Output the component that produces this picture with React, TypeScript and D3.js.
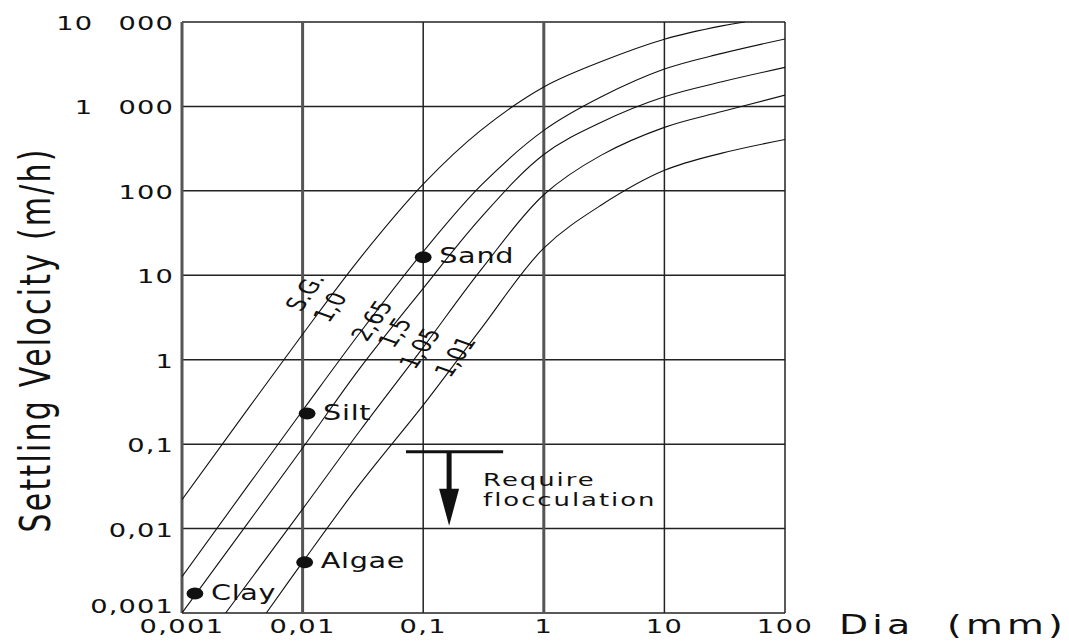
import React from 'react';
import * as d3 from 'd3';

// Axis ticks (decades) and their printed labels
const X_TICKS = [0.001, 0.01, 0.1, 1, 10, 100];
const X_TICK_LABELS = ['0,001', '0,01', '0,1', '1', '10', '100'];
const Y_TICKS = [0.001, 0.01, 0.1, 1, 10, 100, 1000, 10000];
const Y_TICK_LABELS = ['0,001', '0,01', '0,1', '1', '10', '100', '1 000', '10 000'];

// Settling velocity curves: [diameter (mm), velocity (m/h)] per specific gravity
const SG_10: [number, number][] = [
  [0.001, 0.022], [0.01, 2.0], [0.03, 16], [0.1, 120], [0.3, 520],
  [1, 1700], [3, 3400], [10, 6250], [30, 9000], [46.6, 10000],
];
const SG_265: [number, number][] = [
  [0.001, 0.0027], [0.01, 0.25], [0.03, 2.1], [0.1, 19], [0.3, 115],
  [1, 520], [3, 1300], [10, 2770], [30, 4250], [100, 6300],
];
const SG_15: [number, number][] = [
  [0.001, 0.001], [0.01, 0.09], [0.03, 0.8], [0.1, 7], [0.3, 48],
  [1, 270], [3, 650], [10, 1300], [30, 1960], [100, 2900],
];
const SG_105: [number, number][] = [
  [0.0023, 0.001], [0.01, 0.017], [0.03, 0.145], [0.1, 1.4], [0.3, 11.5],
  [1, 90], [3, 265], [10, 565], [30, 870], [100, 1360],
];
const SG_101: [number, number][] = [
  [0.005, 0.001], [0.01, 0.004], [0.03, 0.034], [0.1, 0.29], [0.3, 2.3],
  [1, 21], [3, 68], [10, 175], [30, 280], [100, 406],
];
const CURVES = [SG_10, SG_265, SG_15, SG_105, SG_101];

// Curve annotations placed in data space
const CURVE_LABELS = ['S.G.', '1,0', '2,65', '1,5', '1,05', '1,01'];
const CURVE_LABEL_DIA = [0.0105, 0.0169, 0.0376, 0.0583, 0.094, 0.184];
const CURVE_LABEL_VEL = [6.3, 4.2, 2.9, 2.1, 1.36, 1.09];

// Typical particles
const PARTICLE_NAMES = ['Sand', 'Silt', 'Algae', 'Clay'];
const PARTICLE_DIA = [0.1, 0.0109, 0.0104, 0.00128];
const PARTICLE_VEL = [16.3, 0.23, 0.004, 0.0017];

// Flocculation threshold marker
const FLOC_BAR_DIA = [0.072, 0.46];
const FLOC_BAR_VEL = 0.081;
const FLOC_ARROW_DIA = 0.164;
const FLOC_ARROW_TIP_VEL = 0.0108;
const FLOC_TEXT = ['Require', 'flocculation'];

const W = 1069;
const H = 644;
const LEFT = 182;
const RIGHT = 785;
const TOP = 22;
const BOTTOM = 613;
const SX = 1.4; // horizontal stretch of the lettering
const FONT = '"DejaVu Sans", sans-serif';
const INK = '#111';

export default function App() {
  const x = d3.scaleLog().domain([0.001, 100]).range([LEFT, RIGHT]);
  const y = d3.scaleLog().domain([0.001, 10000]).range([BOTTOM, TOP]);
  const line = d3
    .line<[number, number]>()
    .x((p) => x(p[0]))
    .y((p) => y(p[1]))
    .curve(d3.curveCatmullRom.alpha(0.5));

  const T = (px: number, py: number, rot?: number) =>
    `translate(${px},${py}) scale(${SX},1)` + (rot !== undefined ? ` rotate(${rot})` : '');

  const heavyX = new Set([0.001, 0.01, 1]);

  const barY = y(FLOC_BAR_VEL);
  const arrowX = x(FLOC_ARROW_DIA);
  const tipY = y(FLOC_ARROW_TIP_VEL);

  return (
    <svg
      width={W}
      height={H}
      viewBox={`0 0 ${W} ${H}`}
      style={{ position: 'absolute', left: 0, top: 0, background: '#fff' }}
      fontFamily={FONT}
    >
      <defs>
        <clipPath id="plot-area">
          <rect x={LEFT} y={TOP} width={RIGHT - LEFT} height={BOTTOM - TOP} />
        </clipPath>
      </defs>
      <rect width={W} height={H} fill="#fff" />

      {/* grid */}
      {Y_TICKS.map((v) => (
        <line key={'gy' + v} x1={LEFT} x2={RIGHT} y1={y(v)} y2={y(v)} stroke="#222" strokeWidth={1.5} />
      ))}
      {X_TICKS.map((d) => (
        <line
          key={'gx' + d}
          x1={x(d)}
          x2={x(d)}
          y1={TOP}
          y2={BOTTOM}
          stroke={heavyX.has(d) ? '#555' : '#222'}
          strokeWidth={heavyX.has(d) ? 3 : 1.5}
        />
      ))}

      {/* settling curves */}
      <g clipPath="url(#plot-area)">
        {CURVES.map((c, i) => (
          <path key={'c' + i} d={line(c) || ''} fill="none" stroke={INK} strokeWidth={1.1} />
        ))}
      </g>

      {/* curve labels */}
      {CURVE_LABELS.map((t, i) => (
        <text
          key={'cl' + i}
          transform={T(x(CURVE_LABEL_DIA[i]), y(CURVE_LABEL_VEL[i]), -63)}
          textAnchor="middle"
          dominantBaseline="central"
          fontSize={19}
          fill={INK}
        >
          {t}
        </text>
      ))}

      {/* particles */}
      {PARTICLE_NAMES.map((n, i) => {
        const cx = x(PARTICLE_DIA[i]);
        const cy = y(PARTICLE_VEL[i]);
        return (
          <g key={n}>
            <ellipse cx={cx} cy={cy} rx={8.4} ry={6} fill={INK} />
            <text transform={T(cx + 16, cy + 6)} fontSize={20.5} fill={INK} letterSpacing={0.5}>
              {n}
            </text>
          </g>
        );
      })}

      {/* flocculation marker */}
      <line x1={x(FLOC_BAR_DIA[0])} x2={x(FLOC_BAR_DIA[1])} y1={barY} y2={barY} stroke={INK} strokeWidth={3} />
      <line x1={arrowX} x2={arrowX} y1={barY} y2={tipY - 34} stroke={INK} strokeWidth={5} />
      <path d={`M${arrowX - 10},${tipY - 37} L${arrowX + 10},${tipY - 37} L${arrowX},${tipY} Z`} fill={INK} />
      {FLOC_TEXT.map((t, i) => (
        <text key={t} transform={T(arrowX + 34, barY + 34 + i * 20)} fontSize={18.5} fill={INK} letterSpacing={1.4}>
          {t}
        </text>
      ))}

      {/* y tick labels */}
      {Y_TICKS.map((v, i) => (
        <text
          key={'yt' + v}
          transform={T(174, y(v) + (i === 0 ? 0 : 8))}
          textAnchor="end"
          fontSize={19.5}
          wordSpacing={11}
          letterSpacing={0.8}
          fill={INK}
          style={{ whiteSpace: 'pre' }}
        >
          {Y_TICK_LABELS[i]}
        </text>
      ))}

      {/* x tick labels */}
      {X_TICKS.map((d, i) => (
        <text
          key={'xt' + d}
          transform={T(x(d), 633)}
          textAnchor="middle"
          fontSize={19.5}
          letterSpacing={1}
          fill={INK}
        >
          {X_TICK_LABELS[i]}
        </text>
      ))}

      {/* axis titles */}
      <text transform={T(839, 634)} fontSize={27} letterSpacing={3} fill={INK}>
        Dia
      </text>
      <text transform={T(947, 634)} fontSize={27} letterSpacing={3} fill={INK}>
        (mm)
      </text>
      <text
        transform={T(50, 341, -90)}
        textAnchor="middle"
        fontSize={30}
        textLength={383}
        lengthAdjust="spacing"
        fill={INK}
      >
        Settling Velocity (m/h)
      </text>
    </svg>
  );
}
